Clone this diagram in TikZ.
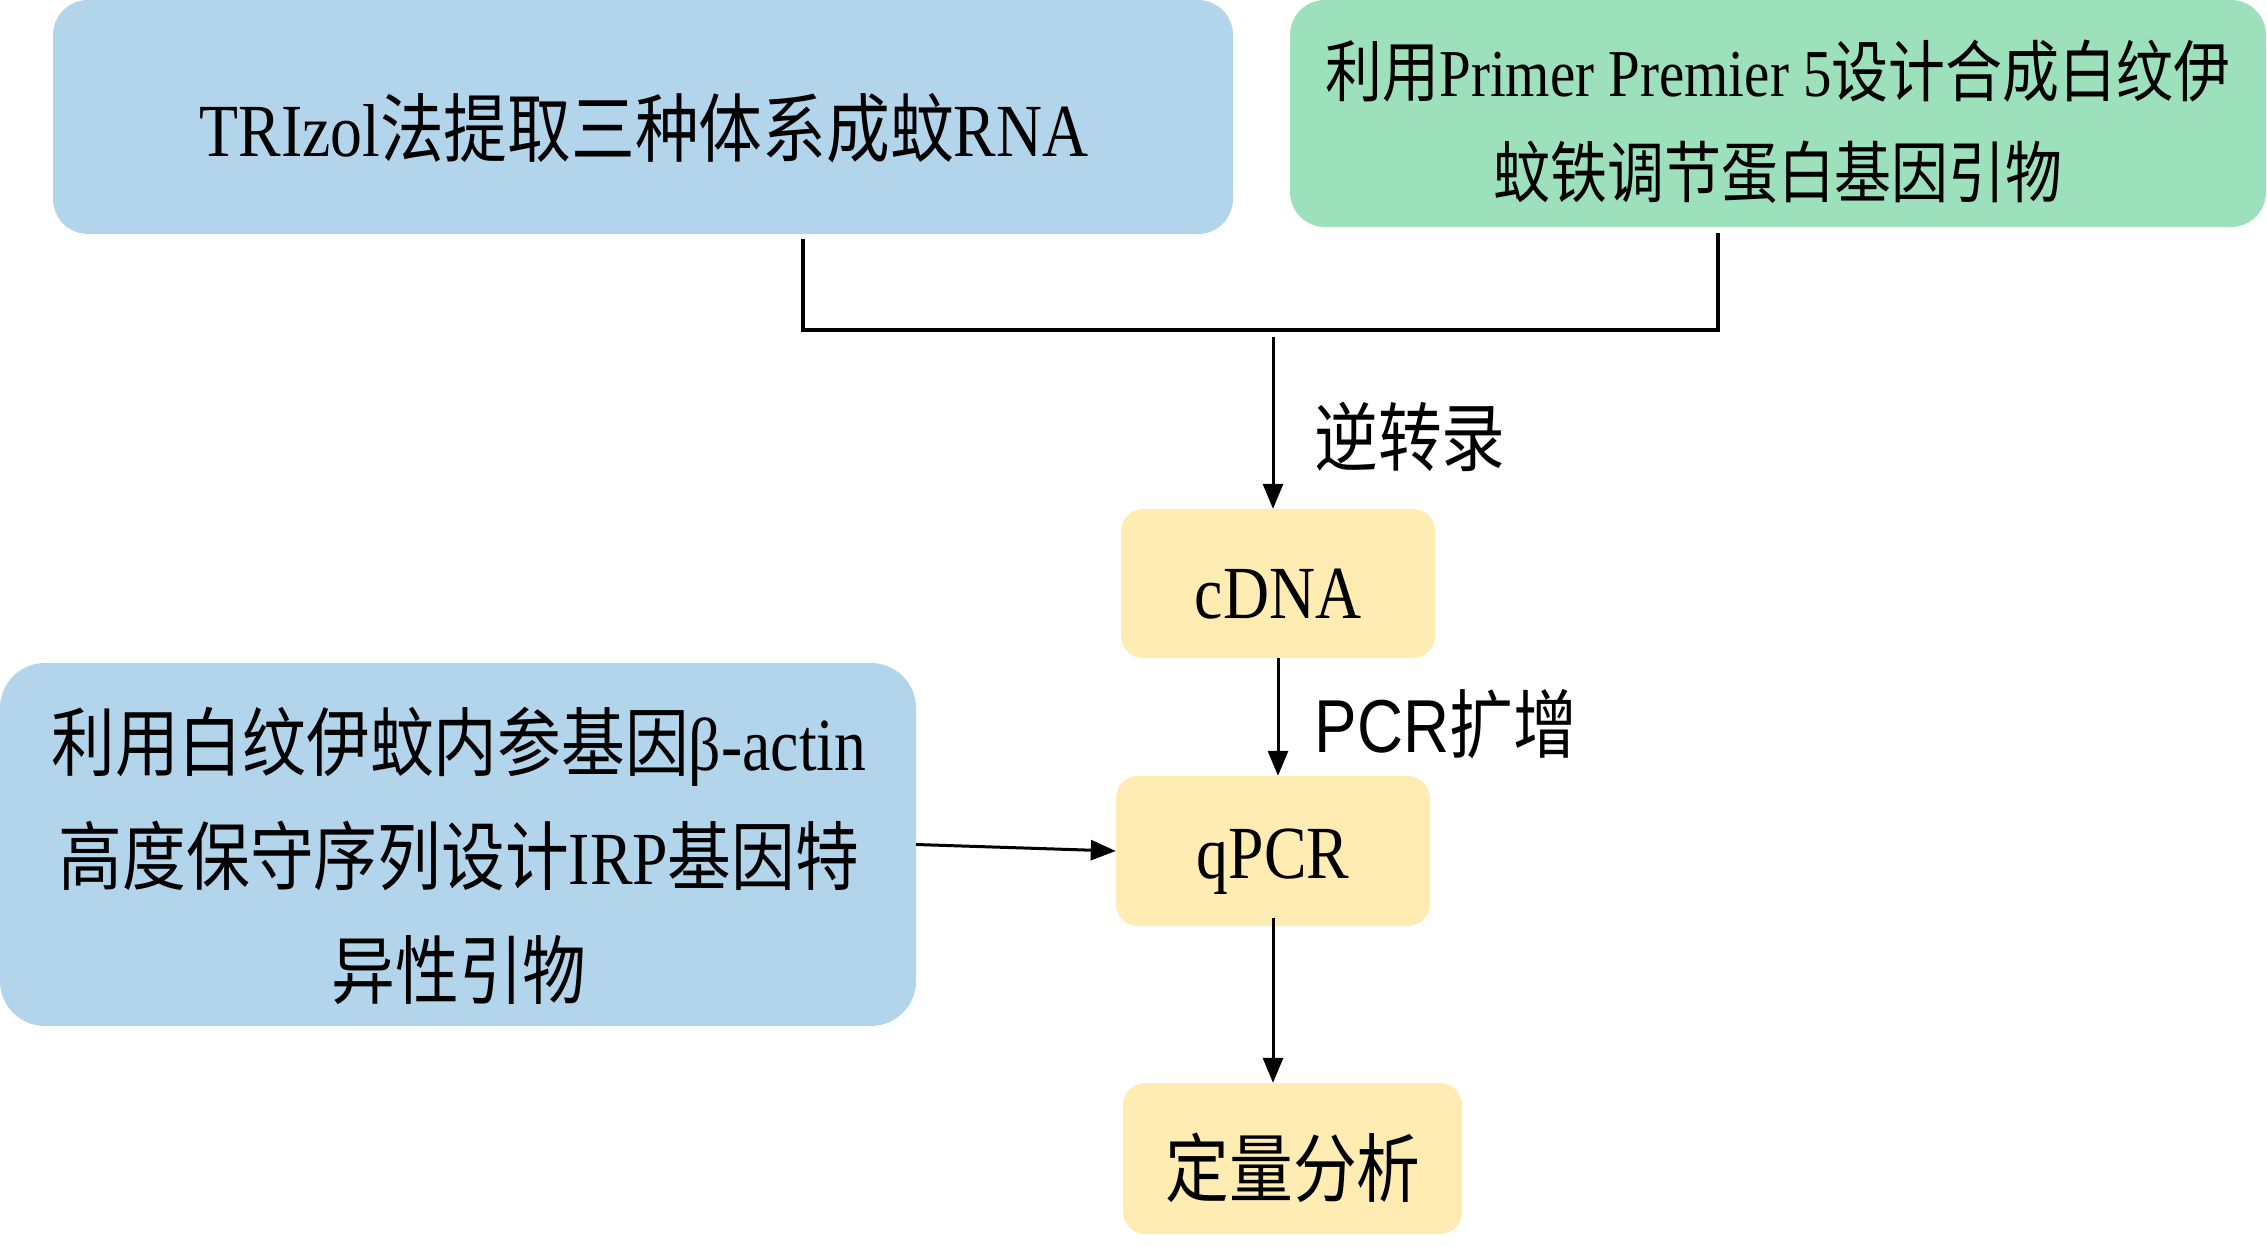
\documentclass[tikz,border=0pt]{standalone}
\usepackage{fontspec}
\setmainfont{Liberation Serif}[FakeStretch=0.85]
\newfontfamily\cjk{Noto Sans CJK SC}[FakeStretch=0.85]
\newfontfamily\arialf{Liberation Sans}[FakeStretch=0.85]
\usetikzlibrary{arrows.meta}
\definecolor{boxblue}{HTML}{B3D5EC}
\definecolor{boxgreen}{HTML}{9CE0BC}
\definecolor{boxyellow}{HTML}{FFECB3}
\newcommand{\zh}[1]{{\cjk #1}}
\begin{document}
\begin{tikzpicture}[x=1pt,y=-1pt,
  bigbox/.style={draw=none, rounded corners=35pt, inner sep=0pt},
  smallbox/.style={draw=none, fill=boxyellow, rounded corners=22pt, inner sep=0pt},
  txt/.style={inner sep=0pt, align=center, font=\fontsize{75pt}{114pt}\selectfont},
  txtb/.style={inner sep=0pt, align=center, font=\fontsize{67pt}{101pt}\selectfont},
  conn/.style={line width=3.5pt},
  arr/.style={line width=3pt, -{Triangle[length=25pt,width=20pt]}}]
\useasboundingbox (0,0) rectangle (2267,1245);
% boxes
\node[bigbox, fill=boxblue, minimum width=1180pt, minimum height=234pt] (a) at (643,117) {};
\node[bigbox, fill=boxgreen, minimum width=976pt, minimum height=227pt] (b) at (1778,113.5) {};
\node[bigbox, fill=boxblue, rounded corners=45pt, minimum width=916pt, minimum height=363pt] (c) at (458,844.5) {};
\node[smallbox, minimum width=314pt, minimum height=149pt] (cdna) at (1278,583.5) {};
\node[smallbox, minimum width=314pt, minimum height=150pt] (qpcr) at (1273,851) {};
\node[smallbox, minimum width=339pt, minimum height=151pt] (quant) at (1292.5,1158.5) {};
% texts
\node[txt] (ta) at (644,128) {TRIzol\zh{法提取三种体系成蚊}RNA};
\node[txtb] (tb) at (1778,122) {\zh{利用}Primer Premier 5\zh{设计合成白纹伊}\\\zh{蚊铁调节蛋白基因引物}};
\node[txt] (tc) at (459,856) {\zh{利用白纹伊蚊内参基因}β-actin\\\zh{高度保守序列设计}IRP\zh{基因特}\\\zh{异性引物}};
\node[txt] (tcdna) at (1278,594) {cDNA};
\node[txt] (tqpcr) at (1273,862) {qPCR};
\node[txt] (tquant) at (1293,1168) {\zh{定量分析}};
\node[txt] (l1) at (1410,437) {\zh{逆转录}};
\node[txt] (l2) at (1446,724) {{\arialf PCR}\zh{扩增}};
% connectors
\coordinate (ja) at (803,330);
\coordinate (jb) at (1718,330);
\coordinate (jc) at (1273,337);
\draw[conn] ([yshift=-5pt]a.south -| ja) -- (ja) -- (jb) -- ([yshift=-6pt]b.south -| jb);
\draw[arr] (jc) -- (jc |- cdna.north);
\draw[arr] (cdna.south) -- (cdna.south |- qpcr.north);
\draw[arr] ([yshift=8pt]qpcr.south) -- (qpcr.south |- quant.north);
\draw[arr] (c.east) -- (qpcr.west);
\end{tikzpicture}
\end{document}
